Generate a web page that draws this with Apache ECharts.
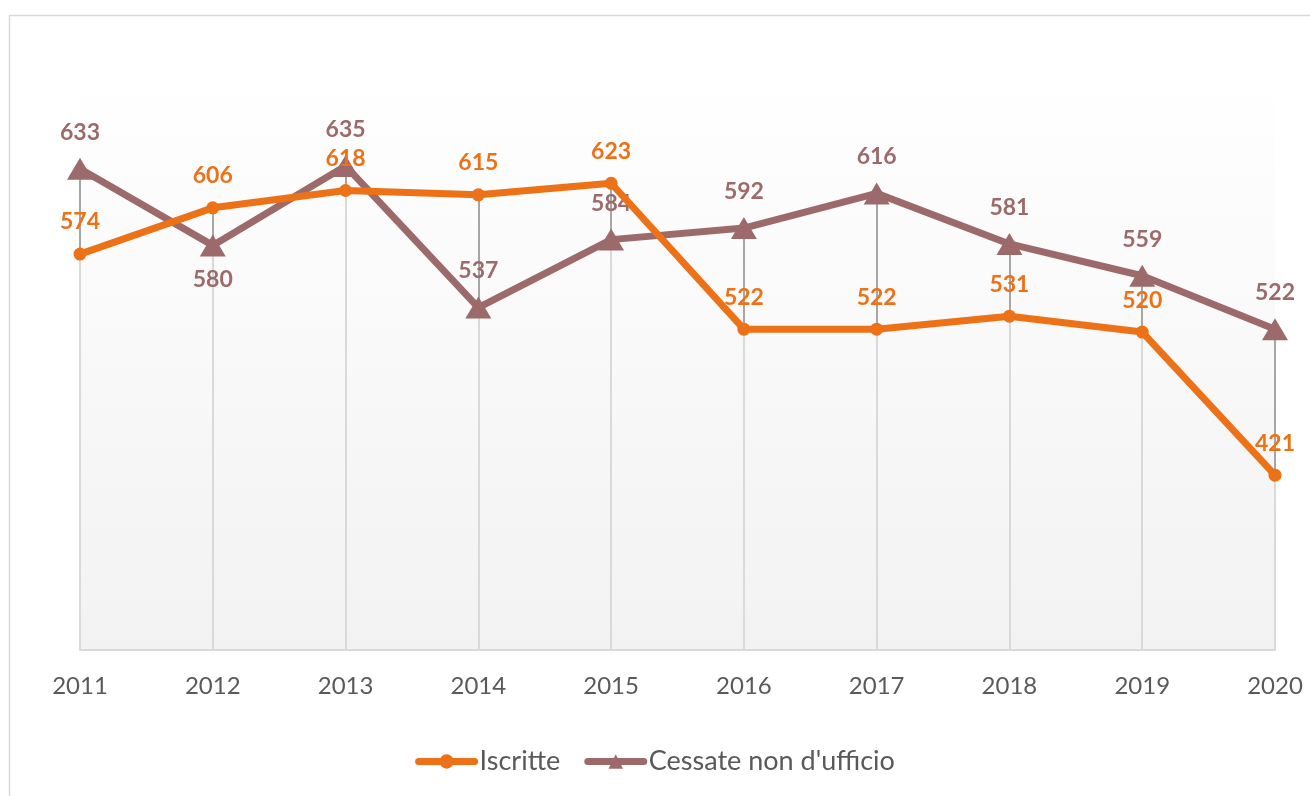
<!DOCTYPE html>
<html lang="it">
<head>
    <meta charset="UTF-8">
    <title>Iscritte / Cessate</title>
    <script type="text/javascript" src="https://cdn.jsdelivr.net/npm/echarts@6/dist/echarts.min.js"></script>
    <style>
        html, body { margin: 0; padding: 0; background: #fff; }
    </style>
</head>
<body>
    <div id="main" style="width: 1310px;height:796px;"></div>
    <script type="text/javascript">

        // dati
        var anni = ['2011', '2012', '2013', '2014', '2015', '2016', '2017', '2018', '2019', '2020'];
        var iscritte = [574, 606, 618, 615, 623, 522, 522, 531, 520, 421];
        var cessate = [633, 580, 635, 537, 584, 592, 616, 581, 559, 522];
        // etichette sotto il punto (solo 2012 per Cessate)
        var cessateSotto = ['2012'];

        var arancio = '#ED7117';
        var malva = '#9C6A6A';
        var fontName = 'Lato';
        var yMin = 300;

        // linee verticali: da punto più basso all'asse, e tratto tra le due serie
        var lineeGiu = [];
        var lineeAltoBasso = [];
        for (var i = 0; i < anni.length; i++) {
            var alto = Math.max(iscritte[i], cessate[i]);
            var basso = Math.min(iscritte[i], cessate[i]);
            lineeGiu.push([{ coord: [anni[i], basso] }, { coord: [anni[i], yMin] }]);
            lineeAltoBasso.push([{ coord: [anni[i], alto] }, { coord: [anni[i], basso] }]);
        }

        var myChart = echarts.init(document.getElementById('main'));

        var option = {
            backgroundColor: '#fff',
            animation: false,
            textStyle: { fontFamily: fontName },
            graphic: [{
                type: 'rect',
                left: 7,
                top: 13,
                shape: { width: 1330, height: 800 },
                style: { fill: 'none', stroke: '#d9d9d9', lineWidth: 1.5 },
                silent: true
            }],
            grid: {
                left: 80,
                right: 35,
                top: 72,
                bottom: 146,
                show: true,
                borderWidth: 0,
                backgroundColor: {
                    type: 'linear', x: 0, y: 0, x2: 0, y2: 1,
                    colorStops: [
                        { offset: 0, color: '#ffffff' },
                        { offset: 1, color: '#f2f2f2' }
                    ]
                }
            },
            legend: {
                bottom: 16,
                left: 'center',
                itemWidth: 56,
                itemHeight: 18,
                itemGap: 24,
                lineStyle: { width: 7, cap: 'round' },
                textStyle: { color: '#595959', fontSize: 27, fontFamily: fontName },
                data: ['Iscritte', 'Cessate non d\'ufficio']
            },
            xAxis: {
                type: 'category',
                boundaryGap: false,
                data: anni,
                axisLine: { lineStyle: { color: '#d9d9d9', width: 2 } },
                axisTick: { show: false },
                axisLabel: { color: '#595959', fontSize: 24, margin: 24 },
                splitLine: { show: false }
            },
            yAxis: {
                type: 'value',
                min: yMin,
                max: 700,
                show: false,
                splitLine: { show: false }
            },
            series: [{
                name: 'Iscritte',
                type: 'line',
                data: iscritte,
                z: 3,
                symbol: 'circle',
                symbolSize: 13,
                lineStyle: { color: arancio, width: 7 },
                itemStyle: { color: arancio },
                label: {
                    show: true,
                    position: 'top',
                    distance: 14,
                    color: arancio,
                    fontSize: 23,
                    fontWeight: 'bold'
                },
                markLine: {
                    silent: true,
                    symbol: 'none',
                    z: 1,
                    label: { show: false },
                    lineStyle: { color: '#d9d9d9', width: 2, type: 'solid' },
                    data: lineeGiu
                }
            }, {
                name: 'Cessate non d\'ufficio',
                type: 'line',
                data: cessate.map(function (v, i) {
                    if (cessateSotto.indexOf(anni[i]) >= 0) {
                        return { value: v, label: { position: 'bottom', distance: 12 } };
                    }
                    return v;
                }),
                z: 2,
                symbol: 'triangle',
                symbolSize: [26, 22],
                lineStyle: { color: malva, width: 7 },
                itemStyle: { color: malva },
                label: {
                    show: true,
                    position: 'top',
                    distance: 14,
                    color: malva,
                    fontSize: 23,
                    fontWeight: 'bold'
                },
                markLine: {
                    silent: true,
                    symbol: 'none',
                    z: 1,
                    label: { show: false },
                    lineStyle: { color: '#a6a6a6', width: 2, type: 'solid' },
                    data: lineeAltoBasso
                }
            }]
        };

        myChart.setOption(option);

    </script>
</body>
</html>
